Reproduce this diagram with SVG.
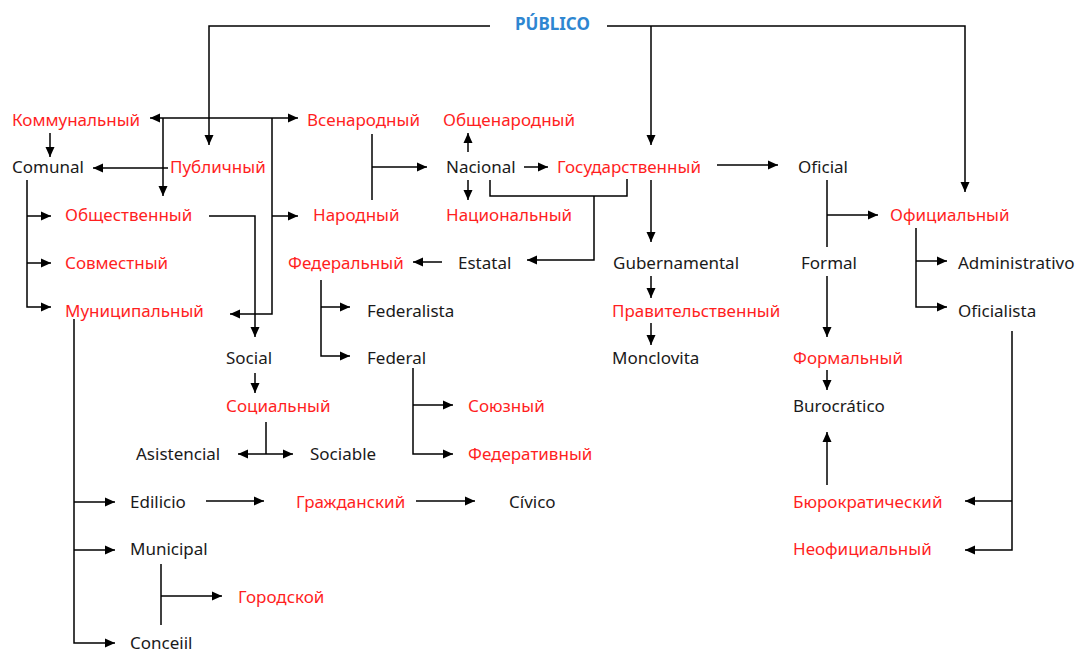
<svg xmlns="http://www.w3.org/2000/svg" width="1077" height="653" viewBox="0 0 1077 653">
<defs>
<marker id="ah" markerUnits="userSpaceOnUse" markerWidth="10" markerHeight="10" refX="10" refY="5" orient="auto-start-reverse"><path d="M0,0.5 L10,5 L0,9.5 z" fill="#000"/></marker>
<style>
text{font-family:"Noto Sans","Open Sans","DejaVu Sans",sans-serif;font-size:17px;fill:#1a1a1a}
.r{fill:#ff1f1f}
.b{fill:#2e86d1;font-weight:bold}
#connectors path{fill:none;stroke:#000;stroke-width:1.5}
.a{marker-end:url(#ah)}
.aa{marker-start:url(#ah);marker-end:url(#ah)}
</style>
</defs>
<rect width="1077" height="653" fill="#fff"/>
<g id="connectors">
<path d="M490,26 H209 V145" class="a"/>
<path d="M607,26 H965 V192" class="a"/>
<path d="M651,26 V145" class="a"/>
<path d="M150,118 H298" class="aa"/>
<path d="M163,118 V196" class="a"/>
<path d="M272,118 V314 H230" class="a"/>
<path d="M272,216 H298" class="a"/>
<path d="M50,133 V157" class="a"/>
<path d="M168,168 H93" class="a"/>
<path d="M27,180 V307 H51" class="a"/>
<path d="M27,216 H51" class="a"/>
<path d="M27,263 H51" class="a"/>
<path d="M209,216 H255 V337" class="a"/>
<path d="M255,373 V393" class="a"/>
<path d="M266,422 V454"/>
<path d="M238,454 H293" class="aa"/>
<path d="M321,280 V356 H350" class="a"/>
<path d="M321,307 H350" class="a"/>
<path d="M413,368 V454 H453" class="a"/>
<path d="M413,405 H453" class="a"/>
<path d="M372,134 V200"/>
<path d="M372,167 H427" class="a"/>
<path d="M468,152 V133" class="a"/>
<path d="M468,180 V200" class="a"/>
<path d="M524,167 H548" class="a"/>
<path d="M490,180 V196 H627 V179"/>
<path d="M594,196 V260 H527" class="a"/>
<path d="M442,262 H413" class="a"/>
<path d="M651,180 V242" class="a"/>
<path d="M651,276 V298" class="a"/>
<path d="M651,323 V345" class="a"/>
<path d="M717,165 H778" class="a"/>
<path d="M827,180 V247"/>
<path d="M827,215 H878" class="a"/>
<path d="M827,276 V337" class="a"/>
<path d="M827,370 V390" class="a"/>
<path d="M827,485 V432" class="a"/>
<path d="M916,228 V307 H947" class="a"/>
<path d="M916,261 H947" class="a"/>
<path d="M1012,331 V550 H965" class="a"/>
<path d="M1012,501 H965" class="a"/>
<path d="M74,319 V643 H115" class="a"/>
<path d="M74,502 H115" class="a"/>
<path d="M74,550 H115" class="a"/>
<path d="M206,501 H264" class="a"/>
<path d="M416,501 H475" class="a"/>
<path d="M161,564 V625"/>
<path d="M161,596 H222" class="a"/>
</g>
<g id="n-publico"><text x="515" y="30" class="b">PÚBLICO</text></g>
<g id="n-kommunalny"><text x="12" y="126" class="r">Коммунальный</text></g>
<g id="n-comunal"><text x="12" y="173">Comunal</text></g>
<g id="n-publichny"><text x="170" y="173" class="r">Публичный</text></g>
<g id="n-obshchestvenny"><text x="65" y="221" class="r">Общественный</text></g>
<g id="n-sovmestny"><text x="65" y="269" class="r">Совместный</text></g>
<g id="n-munitsipalny"><text x="65" y="317" class="r">Муниципальный</text></g>
<g id="n-vsenarodny"><text x="307" y="126" class="r">Всенародный</text></g>
<g id="n-obshchenarodny"><text x="443" y="126" class="r">Общенародный</text></g>
<g id="n-nacional"><text x="446" y="173">Nacional</text></g>
<g id="n-gosudarstvenny"><text x="557" y="173" class="r">Государственный</text></g>
<g id="n-narodny"><text x="313" y="221" class="r">Народный</text></g>
<g id="n-natsionalny"><text x="446" y="221" class="r">Национальный</text></g>
<g id="n-federalny"><text x="288" y="269" class="r">Федеральный</text></g>
<g id="n-estatal"><text x="458" y="269">Estatal</text></g>
<g id="n-gubernamental"><text x="613" y="269">Gubernamental</text></g>
<g id="n-pravitelstvenny"><text x="612" y="317" class="r">Правительственный</text></g>
<g id="n-monclovita"><text x="612" y="364">Monclovita</text></g>
<g id="n-oficial"><text x="798" y="173">Oficial</text></g>
<g id="n-ofitsialny"><text x="890" y="221" class="r">Официальный</text></g>
<g id="n-formal"><text x="801" y="269">Formal</text></g>
<g id="n-administrativo"><text x="958" y="269">Administrativo</text></g>
<g id="n-oficialista"><text x="958" y="317">Oficialista</text></g>
<g id="n-formalny"><text x="793" y="364" class="r">Формальный</text></g>
<g id="n-burocratico"><text x="793" y="412">Burocrático</text></g>
<g id="n-byurokratichesky"><text x="793" y="508" class="r">Бюрократический</text></g>
<g id="n-neofitsialny"><text x="793" y="555" class="r">Неофициальный</text></g>
<g id="n-federalista"><text x="367" y="317">Federalista</text></g>
<g id="n-federal"><text x="367" y="364">Federal</text></g>
<g id="n-social"><text x="226" y="364">Social</text></g>
<g id="n-sotsialny"><text x="226" y="412" class="r">Социальный</text></g>
<g id="n-asistencial"><text x="136" y="460">Asistencial</text></g>
<g id="n-sociable"><text x="310" y="460">Sociable</text></g>
<g id="n-soyuzny"><text x="468" y="412" class="r">Союзный</text></g>
<g id="n-federativny"><text x="468" y="460" class="r">Федеративный</text></g>
<g id="n-edilicio"><text x="130" y="508">Edilicio</text></g>
<g id="n-grazhdansky"><text x="296" y="508" class="r">Гражданский</text></g>
<g id="n-civico"><text x="509" y="508">Cívico</text></g>
<g id="n-municipal"><text x="130" y="555">Municipal</text></g>
<g id="n-gorodskoy"><text x="238" y="603" class="r">Городской</text></g>
<g id="n-conceiil"><text x="130" y="649">Conceiil</text></g>
</svg>
